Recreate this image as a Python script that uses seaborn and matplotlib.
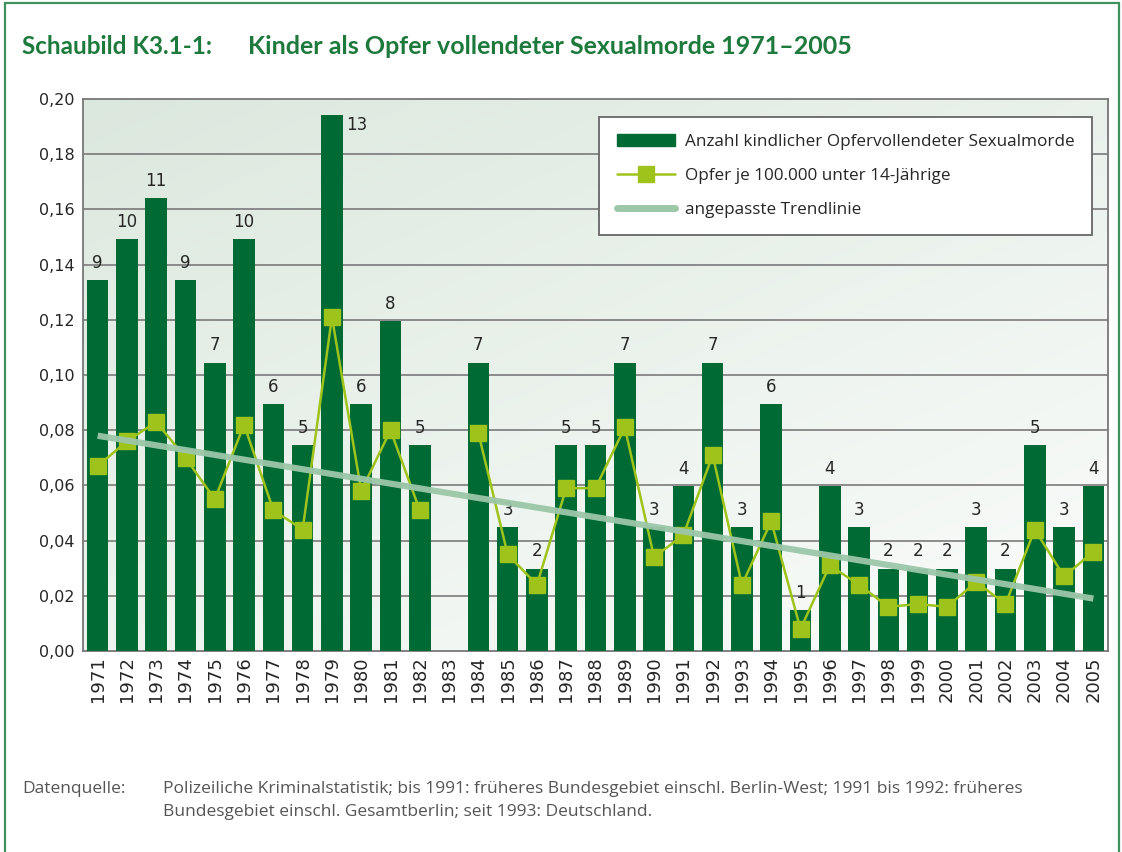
import matplotlib
matplotlib.use("Agg")
import matplotlib.pyplot as plt
import matplotlib.patches as mpatches
from matplotlib.lines import Line2D
import numpy as np
import pandas as pd
import seaborn as sns

# data
years = [str(y) for y in range(1971, 2006)]
counts = [9, 10, 11, 9, 7, 10, 6, 5, 13, 6, 8, 5, 0, 7, 3, 2, 5, 5, 7, 3,
          4, 7, 3, 6, 1, 4, 3, 2, 2, 2, 3, 2, 5, 3, 4]
rates = [0.067, 0.076, 0.083, 0.070, 0.055, 0.082, 0.051, 0.044, 0.121, 0.058,
         0.080, 0.051, np.nan, 0.079, 0.035, 0.024, 0.059, 0.059, 0.081, 0.034,
         0.042, 0.071, 0.024, 0.047, 0.008, 0.031, 0.024, 0.016, 0.017, 0.016,
         0.025, 0.017, 0.044, 0.027, 0.036]
trend_years = ["1971", "2005"]
trend_vals = [0.078, 0.019]
ytick_vals = [0.00, 0.02, 0.04, 0.06, 0.08, 0.10, 0.12, 0.14, 0.16, 0.18, 0.20]

BAR = "#006a35"
LINE = "#9ec31a"
TREND = "#9cc7a9"
TITLE = "#1d7a3c"

sns.set_style("white")
plt.rcParams["font.family"] = ["DejaVu Sans"]

df = pd.DataFrame({"Jahr": years, "Anzahl": counts, "Rate": rates})
pos = np.arange(len(years))

fig = plt.figure(figsize=(11.22, 8.52), dpi=100)
fig.subplots_adjust(left=83 / 1122, right=1108 / 1122, top=1 - 99 / 852, bottom=1 - 651 / 852)

ax = fig.add_subplot(111)
# background gradient
grad = np.linspace(0, 1, 256)
gx, gy = np.meshgrid(grad, grad)
g = np.clip(0.55 * gy + 0.45 * gx, 0, 1)
top_c = np.array([0.86, 0.91, 0.87])
bot_c = np.array([0.985, 0.99, 0.985])
img = top_c[None, None, :] * (1 - g[..., None]) + bot_c[None, None, :] * g[..., None]
ax.imshow(img, extent=[0, 1, 0, 1], transform=ax.transAxes, aspect="auto", zorder=0)

ax.set_xlim(-0.5, len(years) - 0.5)
ax.set_ylim(0, 0.20)
ax.set_yticks(ytick_vals)
ax.set_yticklabels([f"{v:.2f}".replace(".", ",") for v in ytick_vals], fontsize=11.5)
for v in ytick_vals[1:-1]:
    ax.axhline(v, color="#7a7a7a", lw=1.2, zorder=1)
ax.set_xticks(pos)
ax.set_xticklabels(years, rotation=90, fontsize=13)
ax.set_xticks(np.arange(-0.5, len(years), 1), minor=True)
ax.tick_params(axis="x", which="major", length=0, pad=4)
ax.tick_params(axis="x", which="minor", length=6, width=1.2, color="#777777", direction="out")
ax.tick_params(axis="y", length=0, pad=6)
for s in ax.spines.values():
    s.set_color("#777777")
    s.set_linewidth(1.3)

# bars (counts) on their own scale
axb = ax.twinx()
sns.barplot(data=df, x="Jahr", y="Anzahl", color=BAR, saturation=1, width=0.74,
            linewidth=0, edgecolor=BAR, ax=axb)
axb.set_ylim(0, 13.4)
axb.set_xlim(-0.5, len(years) - 0.5)
axb.axis("off")
for i, c in enumerate(counts):
    if c == 0:
        continue
    if c == 13:
        axb.text(i + 0.48, c - 0.02, str(c), ha="left", va="top", fontsize=12)
    else:
        axb.text(i, c + 0.2, str(c), ha="center", va="bottom", fontsize=12)

# rate line and trend line
axl = ax.twinx()
axl.plot(pos, rates, color=LINE, lw=1.8, marker="s", ms=11.5, mfc=LINE, mec=LINE, zorder=3)
tpos = [years.index(t) for t in trend_years]
axl.plot(tpos, trend_vals, color=TREND, lw=4.5, solid_capstyle="butt", zorder=4, alpha=0.95)
axl.set_ylim(0, 0.20)
axl.set_xlim(-0.5, len(years) - 0.5)
axl.axis("off")

handles = [
    mpatches.Patch(color=BAR),
    Line2D([], [], color=LINE, lw=1.8, marker="s", ms=11),
    Line2D([], [], color=TREND, lw=5),
]
labels = [
    "Anzahl kindlicher Opfervollendeter Sexualmorde",
    "Opfer je 100.000 unter 14-Jährige",
    "angepasste Trendlinie",
]
leg = axl.legend(handles, labels, loc="upper right", bbox_to_anchor=(0.984, 0.967),
                 frameon=True, fancybox=False, framealpha=1,
                 edgecolor="#666666", labelspacing=1.05, handlelength=3.4,
                 handletextpad=0.6, borderpad=1.0, borderaxespad=0,
                 prop={"family": "Open Sans", "size": 12.3})
leg.get_frame().set_linewidth(1.3)

# title and footer
fig.text(22 / 1122, 1 - 47 / 852, "Schaubild K3.1-1:", fontsize=17.5, fontweight="bold",
         color=TITLE, family="Lato", va="center")
fig.text(248 / 1122, 1 - 47 / 852, "Kinder als Opfer vollendeter Sexualmorde 1971–2005",
         fontsize=18, fontweight="bold", color=TITLE, family="Lato", va="center")
fig.text(22 / 1122, 1 - 789 / 852, "Datenquelle:", fontsize=12.5, color="#555555",
         family="Open Sans", va="center")
fig.text(163 / 1122, 1 - 789 / 852,
         "Polizeiliche Kriminalstatistik; bis 1991: früheres Bundesgebiet einschl. Berlin-West; 1991 bis 1992: früheres",
         fontsize=12.5, color="#555555", family="Open Sans", va="center")
fig.text(163 / 1122, 1 - 812 / 852,
         "Bundesgebiet einschl. Gesamtberlin; seit 1993: Deutschland.",
         fontsize=12.5, color="#555555", family="Open Sans", va="center")

# green frame round the figure
fig.patches.append(mpatches.Rectangle((5 / 1122, -0.01), 1114 / 1122, 1 - 3 / 852 + 0.01,
                                      transform=fig.transFigure, fill=False,
                                      edgecolor="#3f9160", lw=1.6))

fig.savefig("out.png", dpi=100)
